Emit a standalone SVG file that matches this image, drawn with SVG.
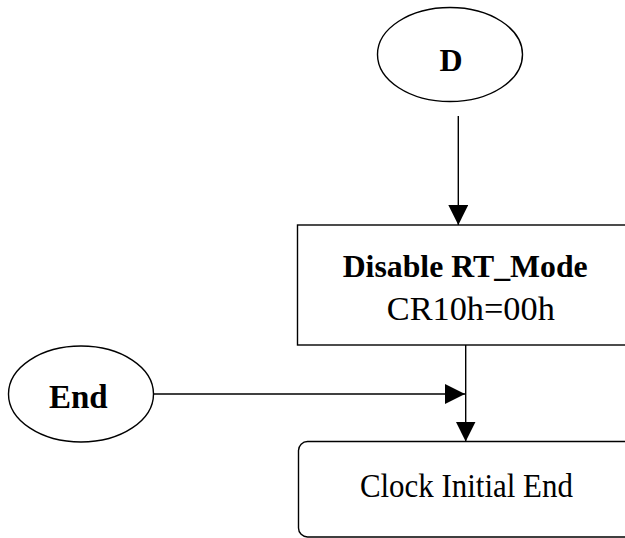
<svg xmlns="http://www.w3.org/2000/svg" width="625" height="538" viewBox="0 0 625 538">
<style>
.shape{fill:#fff;stroke:#000;stroke-width:1.4}
.conn{fill:none;stroke:#000;stroke-width:1.4}
.t{font-family:"Liberation Serif","Times New Roman",serif;fill:#000;text-anchor:middle}
.b{font-weight:bold}
</style>
<defs>
<marker id="arr" viewBox="0 0 20 20" markerWidth="20" markerHeight="20" refX="20" refY="10" orient="auto" markerUnits="userSpaceOnUse">
<path d="M0,0 L20,10 L0,20 z" fill="#000"/>
</marker>
</defs>
<rect width="625" height="538" fill="#fff"/>
<g id="connectors">
<line class="conn" x1="458.3" y1="116" x2="458.3" y2="225" marker-end="url(#arr)"/>
<line class="conn" x1="465.7" y1="345" x2="465.7" y2="441.5" marker-end="url(#arr)"/>
<line class="conn" x1="153.5" y1="394" x2="465" y2="394" marker-end="url(#arr)"/>
</g>
<g id="node-D">
<ellipse class="shape" cx="450" cy="54.5" rx="72.5" ry="47"/>
<text class="t b" x="451" y="71" font-size="32">D</text>
</g>
<g id="node-disable">
<rect class="shape" x="297.5" y="225" width="340" height="120"/>
<text class="t b" x="465.2" y="276.5" font-size="31" textLength="245" lengthAdjust="spacingAndGlyphs">Disable RT_Mode</text>
<text class="t" x="470.8" y="320" font-size="34" textLength="168" lengthAdjust="spacingAndGlyphs">CR10h=00h</text>
</g>
<g id="node-end">
<ellipse class="shape" cx="81" cy="394" rx="72.5" ry="48"/>
<text class="t b" x="78.3" y="408.3" font-size="33">End</text>
</g>
<g id="node-clock">
<rect class="shape" x="298.5" y="441.5" width="340" height="95.5" rx="9" ry="9"/>
<text class="t" x="466.4" y="497" font-size="34" textLength="213" lengthAdjust="spacingAndGlyphs">Clock Initial End</text>
</g>
</svg>
